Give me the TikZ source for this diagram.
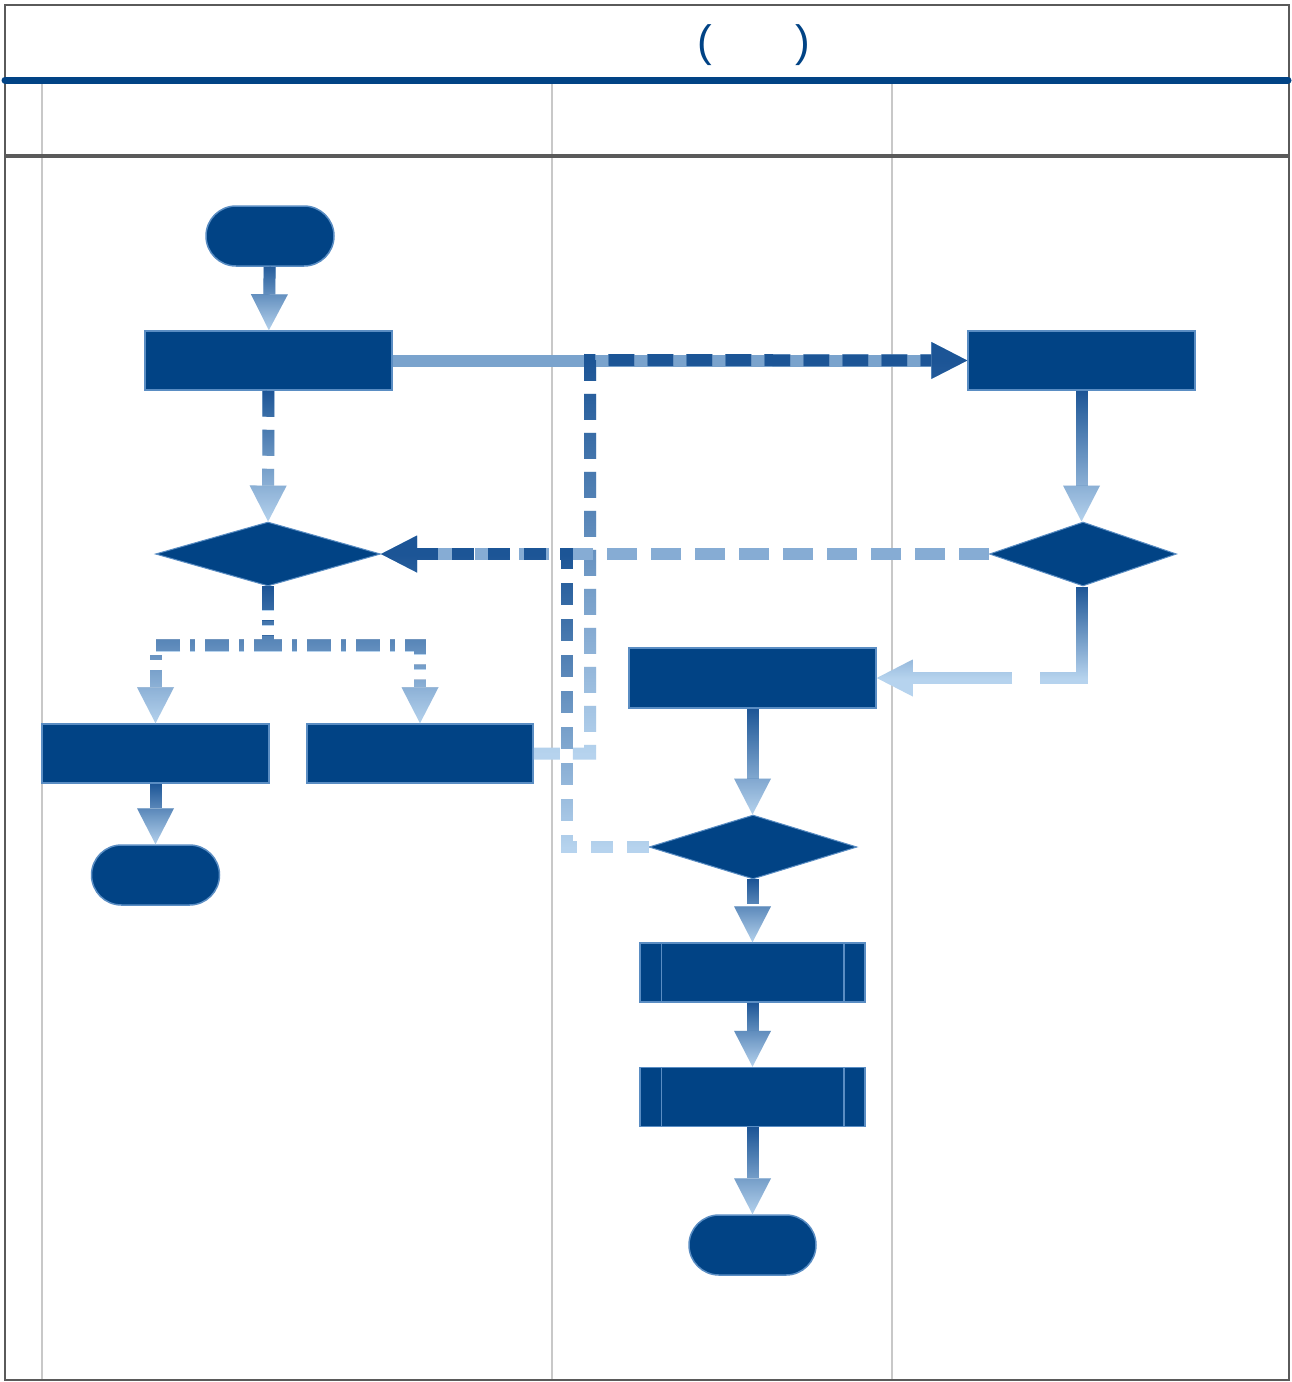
\documentclass[tikz,border=0pt]{standalone}
\usepackage{fontspec}
\setmainfont{Liberation Sans}
\usetikzlibrary{arrows.meta,shapes.geometric,shapes.misc,fadings}
\definecolor{nodeblue}{HTML}{014385}
\definecolor{nodeedge}{HTML}{5A8DC3}
\definecolor{cdark}{HTML}{1C5596}
\definecolor{clight}{HTML}{B6D3EE}
\definecolor{cmid}{HTML}{7AA3CD}
\definecolor{cmidl}{HTML}{86ACD4}
\definecolor{laneline}{HTML}{C8C8C8}
\definecolor{framegray}{HTML}{5A5A5A}
\tikzfading[name=fadedown, top color=transparent!0, bottom color=transparent!100]
\begin{document}
\begin{tikzpicture}[x=1pt,y=-1pt,
  proc/.style={rectangle, fill=nodeblue, draw=nodeedge, line width=1.5pt, inner sep=0pt},
  term/.style={rounded rectangle, fill=nodeblue, draw=nodeedge, line width=1.5pt, inner sep=0pt, minimum width=128pt, minimum height=60pt},
  dec/.style={diamond, fill=nodeblue, draw=nodeedge, line width=1pt, inner sep=0pt},
  conn/.style={line width=12pt, draw=clight, -{Triangle[width=37pt,length=36pt,line width=0pt]}},
  gfade/.style 2 args={postaction={draw=cdark, path fading=fadedown, fit fading=false,
      fading transform={shift={(645,{(#1+#2)/2})}, yscale={(#2-#1)/50}, xscale=15}}},
  dashA/.style={dash pattern=on 26pt off 13pt},
  dashB/.style={dash pattern=on 24pt off 10pt on 5pt off 10pt},
  titletext/.style={font=\fontsize{44}{48}\selectfont, text=nodeblue, inner sep=0pt}
]
\fill[white] (0,0) rectangle (1291,1382);
\useasboundingbox (0,0) rectangle (1291,1382);

% lanes
\draw[laneline, line width=1.2pt] (42,84) -- (42,1381);
\draw[laneline, line width=1.2pt] (552,84) -- (552,1381);
\draw[laneline, line width=1.2pt] (892,84) -- (892,1381);
\draw[framegray, line width=2pt] (5,5) rectangle (1289,1380);
\draw[framegray, line width=4pt] (5,156) -- (1289,156);
\draw[nodeblue, line width=7pt, line cap=round] (5,80) -- (1288,80);

% title
\node[titletext] (lp) at (705,45) {(};
\node[titletext] (rp) at (803,45) {)};

% nodes
\node[term] (start) at (270,236) {};
\node[proc, minimum width=247pt, minimum height=59pt] (A) at (268.5,360.5) {};
\node[proc, minimum width=227pt, minimum height=59pt] (B) at (1081.5,360.5) {};
\node[dec, minimum width=225pt, minimum height=64pt] (D1) at (268,554) {};
\node[dec, minimum width=187pt, minimum height=64pt] (D2) at (1083,554) {};
\node[proc, minimum width=247pt, minimum height=60pt] (C) at (752.5,678) {};
\node[proc, minimum width=227pt, minimum height=59pt] (E) at (155.5,753.5) {};
\node[proc, minimum width=226pt, minimum height=59pt] (F) at (420,753.5) {};
\node[term] (end1) at (155.5,875) {};
\node[dec, minimum width=208pt, minimum height=64pt] (D3) at (753,847) {};
\node[proc, minimum width=225pt, minimum height=59pt] (G) at (752.5,972.5) {};
\node[proc, minimum width=225pt, minimum height=59pt] (H) at (752.5,1097) {};
\node[term, minimum width=127pt] (end2) at (752.5,1245) {};
\foreach \n in {G,H}{
  \draw[nodeedge, line width=1.5pt] ([xshift=22pt]\n.north west) -- ([xshift=22pt]\n.south west);
  \draw[nodeedge, line width=1.5pt] ([xshift=-22pt]\n.north east) -- ([xshift=-22pt]\n.south east);
}

% helper coordinates
\coordinate (fb) at (590,360);
\coordinate (dd) at (567,554);

% connectors
\draw[conn, gfade={262}{331}] (start) -- (A);
\draw[conn, draw=cmid] (A.east) -- (B.west);
\draw[conn, dashA, gfade={360}{753}] (F.east) -| (fb) -- (B.west);
\draw[conn, dashA, gfade={390}{522}] (A) -- (D1);
\draw[conn, gfade={390}{522}] (B) -- (D2.north -| B);
\draw[conn, draw=cmidl, dash pattern=on 30pt off 14pt] (D2.west) -- (D1.east);
\draw[conn, dash pattern=on 22pt off 14pt, gfade={554}{847}] (D3.west) -| (dd) -- (D1.east);
\draw[conn, dash pattern=on 133pt off 28pt on 400pt, gfade={586}{678}] (D2.south -| B) |- (C.east);
\draw[conn, dashB, gfade={586}{724}] (D1.south) -- ++(0,59) -| (E.north);
\draw[conn, dashB, gfade={586}{724}] (D1.south) -- ++(0,59) -| (F.north);
\draw[conn, gfade={783}{845}] (E) -- (end1);
\draw[conn, gfade={708}{815}] (C) -- (D3.north -| C);
\draw[conn, dash pattern=on 24pt off 12pt, gfade={879}{943}] (D3.south -| C) -- (G);
\draw[conn, gfade={1002}{1067}] (G) -- (H);
\draw[conn, gfade={1127}{1215}] (H) -- (end2);
\end{tikzpicture}
\end{document}
